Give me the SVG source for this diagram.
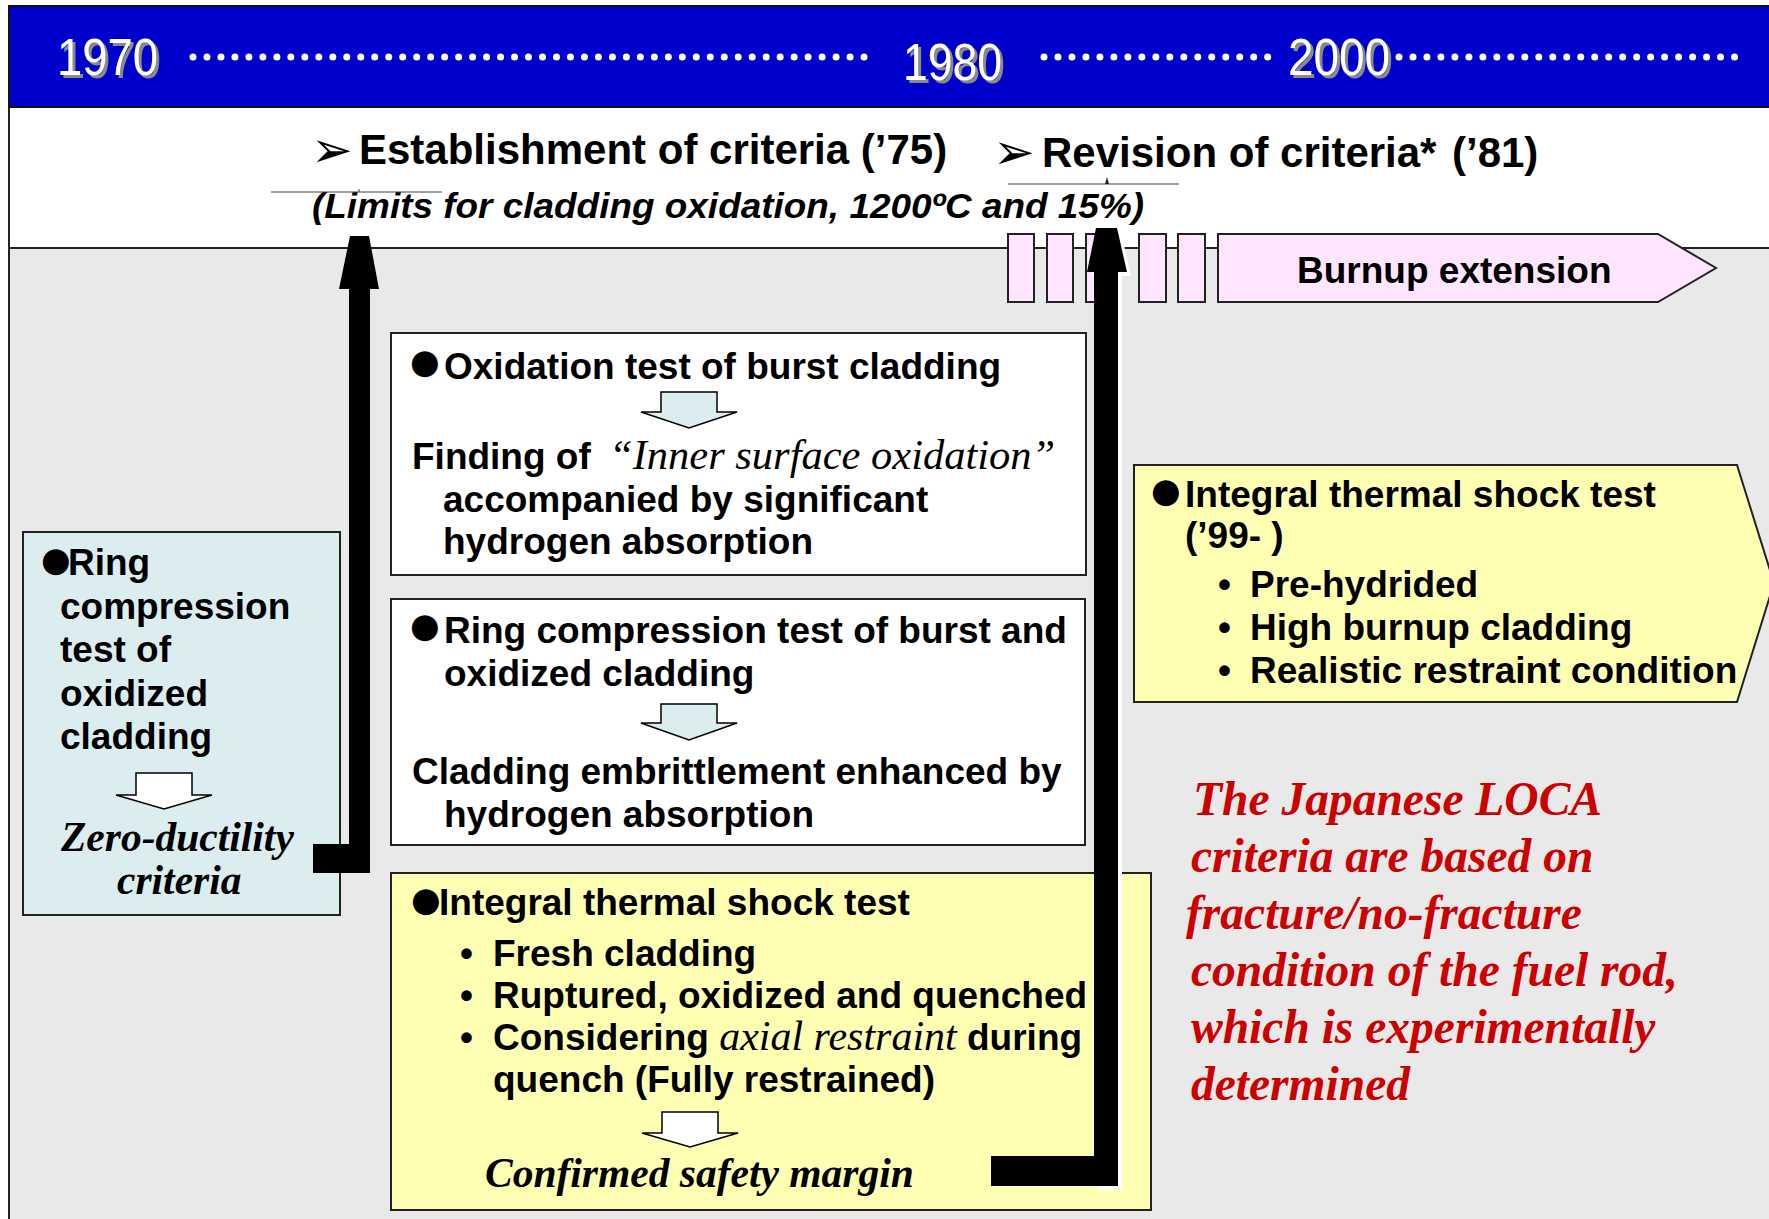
<svg xmlns="http://www.w3.org/2000/svg" width="1769" height="1219" viewBox="0 0 1769 1219">
<style>
.yr{font-family:"Liberation Sans",Arial,sans-serif;font-size:52px;fill:#fff}
.yrs{font-family:"Liberation Sans",Arial,sans-serif;font-size:52px;fill:#8a8a8a}
.dots{stroke:#fff;stroke-width:7;stroke-linecap:round;stroke-dasharray:0.01 13.97;fill:none}
.h{font-family:"Liberation Sans",Arial,sans-serif;font-weight:bold;font-size:42px;fill:#000}
.sym{font-family:"DejaVu Sans",sans-serif;font-size:50px;fill:#000}
.b{font-family:"Liberation Sans",Arial,sans-serif;font-weight:bold;font-size:37px;fill:#000}
.bul{font-family:"DejaVu Sans",sans-serif;font-size:34px;fill:#000}
.tbi{font-family:"Liberation Serif","Times New Roman",serif;font-weight:bold;font-style:italic}
.ti{font-family:"Liberation Serif","Times New Roman",serif;font-style:italic;font-weight:normal}
.red{font-family:"Liberation Serif","Times New Roman",serif;font-weight:bold;font-style:italic;font-size:47.5px;fill:#CC0000}
.box{stroke:#222;stroke-width:2}
.harrow{stroke:#000;stroke-width:1.5}
</style>

<!-- background bands -->
<rect x="9" y="248" width="1770" height="980" fill="#E9E9E9" stroke="#222" stroke-width="2"/>
<rect x="9" y="107" width="1770" height="141" fill="#FFFFFF" stroke="#222" stroke-width="2"/>
<rect x="9" y="6" width="1770" height="101" fill="#0000CC" stroke="#111" stroke-width="2"/>

<g id="timeline">
  <text class="yrs" x="60" y="78" textLength="101" lengthAdjust="spacingAndGlyphs">1970</text>
  <text class="yr" x="57" y="75" textLength="101" lengthAdjust="spacingAndGlyphs">1970</text>
  <line class="dots" x1="193" y1="57" x2="878" y2="57"/>
  <text class="yrs" x="906" y="83" textLength="99" lengthAdjust="spacingAndGlyphs">1980</text>
  <text class="yr" x="903" y="80" textLength="99" lengthAdjust="spacingAndGlyphs">1980</text>
  <line class="dots" x1="1044" y1="57" x2="1268" y2="57"/>
  <text class="yrs" x="1291" y="78" textLength="102" lengthAdjust="spacingAndGlyphs">2000</text>
  <text class="yr" x="1288" y="75" textLength="102" lengthAdjust="spacingAndGlyphs">2000</text>
  <line class="dots" x1="1399" y1="57" x2="1735" y2="57"/>
</g>

<g id="criteria-header">
  <text class="sym" x="311" y="167">➢</text>
  <text class="h" x="359" y="164">Establishment of criteria (’75)</text>
  <text class="sym" x="993" y="169">➢</text>
  <text class="h" x="1042" y="167">Revision of criteria*</text>
  <text class="h" x="1452" y="167">(’81)</text>
  <text x="312" y="218" font-family="Liberation Sans, Arial, sans-serif" font-weight="bold" font-style="italic" font-size="35" textLength="832" lengthAdjust="spacingAndGlyphs">(Limits for cladding oxidation, 1200ºC and 15%)</text>
  <line x1="271" y1="192" x2="442" y2="192" stroke="#444" stroke-width="1"/>
  <line x1="359" y1="189" x2="359" y2="192" stroke="#444" stroke-width="1"/>
  <line x1="1008" y1="184" x2="1179" y2="184" stroke="#444" stroke-width="1"/>
  <path d="M1105,184 L1107,177 L1109,184 Z" fill="#222"/>
</g>

<g id="burnup">
  <g fill="#FFE5FF" class="box">
    <rect x="1008" y="234" width="26" height="68"/>
    <rect x="1047" y="234" width="26" height="68"/>
    <rect x="1086" y="234" width="26" height="68"/>
    <rect x="1139" y="234" width="27" height="68"/>
    <rect x="1178" y="234" width="27" height="68"/>
    <path d="M1218,234 L1658,234 L1716,268 L1658,302 L1218,302 Z"/>
  </g>
  <text class="b" x="1297" y="283">Burnup extension</text>
</g>

<g id="ring-test-box">
  <rect x="23" y="532" width="317" height="383" fill="#DCEDF0" class="box"/>
  <text class="bul" x="41" y="571" font-size="27">●</text>
  <text class="b" x="68" y="575">Ring</text>
  <text class="b" x="60" y="619">compression</text>
  <text class="b" x="60" y="662">test of</text>
  <text class="b" x="60" y="706">oxidized</text>
  <text class="b" x="60" y="749">cladding</text>
  <path class="harrow" fill="#FFFFFF" d="M136,773 L192,773 L192,795 L212,795 L164,809 L116,795 L136,795 Z"/>
  <text class="tbi" x="61" y="851" font-size="41.5">Zero-ductility</text>
  <text class="tbi" x="117" y="894" font-size="41.5">criteria</text>
</g>

<g id="oxidation-box">
  <rect x="391" y="333" width="695" height="242" fill="#FFFFFF" class="box"/>
  <text class="bul" x="410" y="373">●</text>
  <text class="b" x="444" y="379">Oxidation test of burst cladding</text>
  <path class="harrow" fill="#DCEDF0" d="M661,392 L717,392 L717,412 L737,412 L689,428 L641,412 L661,412 Z"/>
  <text x="412" y="469"><tspan class="b">Finding of</tspan><tspan class="ti" x="609" font-size="42.5">“Inner surface oxidation”</tspan></text>
  <text class="b" x="443" y="512">accompanied by significant</text>
  <text class="b" x="443" y="554">hydrogen absorption</text>
</g>

<g id="ring-burst-box">
  <rect x="391" y="599" width="694" height="246" fill="#FFFFFF" class="box"/>
  <text class="bul" x="410" y="637">●</text>
  <text class="b" x="444" y="643">Ring compression test of burst and</text>
  <text class="b" x="444" y="686">oxidized cladding</text>
  <path class="harrow" fill="#DCEDF0" d="M661,704 L717,704 L717,723 L737,723 L689,740 L641,723 L661,723 Z"/>
  <text class="b" x="412" y="784">Cladding embrittlement enhanced by</text>
  <text class="b" x="444" y="827">hydrogen absorption</text>
</g>

<g id="integral-fresh-box">
  <rect x="391" y="873" width="760" height="337" fill="#FFFFB4" class="box"/>
  <text class="bul" x="411" y="911" font-size="28">●</text>
  <text class="b" x="439" y="915">Integral thermal shock test</text>
  <text class="b" x="460" y="966">•</text>
  <text class="b" x="493" y="966">Fresh cladding</text>
  <text class="b" x="460" y="1008">•</text>
  <text class="b" x="493" y="1008">Ruptured, oxidized and quenched</text>
  <text class="b" x="460" y="1050">•</text>
  <text x="493" y="1050"><tspan class="b">Considering </tspan><tspan class="ti" font-size="42">axial restraint</tspan><tspan class="b"> during</tspan></text>
  <text class="b" x="493" y="1092">quench (Fully restrained)</text>
  <path class="harrow" fill="#FFFFFF" d="M662,1112 L718,1112 L718,1133 L738,1133 L690,1147 L642,1133 L662,1133 Z"/>
  <text class="tbi" x="485" y="1187" font-size="41.5">Confirmed safety margin</text>
</g>

<g id="integral-highburnup-box">
  <path d="M1134,465 L1737,465 L1774,583 L1737,702 L1134,702 Z" fill="#FFFFB4" class="box"/>
  <text class="bul" x="1151" y="502">●</text>
  <text class="b" x="1185" y="507">Integral thermal shock test</text>
  <text class="b" x="1185" y="548">(’99- )</text>
  <text class="b" x="1218" y="597">•</text>
  <text class="b" x="1250" y="597">Pre-hydrided</text>
  <text class="b" x="1218" y="640">•</text>
  <text class="b" x="1250" y="640">High burnup cladding</text>
  <text class="b" x="1218" y="683">•</text>
  <text class="b" x="1250" y="683">Realistic restraint condition</text>
</g>

<g id="conclusion-note">
  <text class="red" x="1193" y="815">The Japanese LOCA</text>
  <text class="red" x="1191" y="872">criteria are based on</text>
  <text class="red" x="1186" y="929">fracture/no-fracture</text>
  <text class="red" x="1191" y="986">condition of the fuel rod,</text>
  <text class="red" x="1191" y="1043">which is experimentally</text>
  <text class="red" x="1191" y="1100">determined</text>
</g>

<g id="connectors">
  <path fill="#000" d="M350,236 L369,236 L379,289 L370,289 L370,873 L313,873 L313,844 L349,844 L349,289 L339,289 Z"/>
  <path fill="#FFFFFF" d="M1100,232 L1121,232 L1131,276 L1122,276 L1122,1190 L1098,1190 L1098,1160 L1098,276 L1091,276 Z"/>
  <path fill="#000" d="M1096,228 L1117,228 L1127,272 L1118,272 L1118,1186 L991,1186 L991,1156 L1094,1156 L1094,272 L1087,272 Z"/>
</g>
</svg>
